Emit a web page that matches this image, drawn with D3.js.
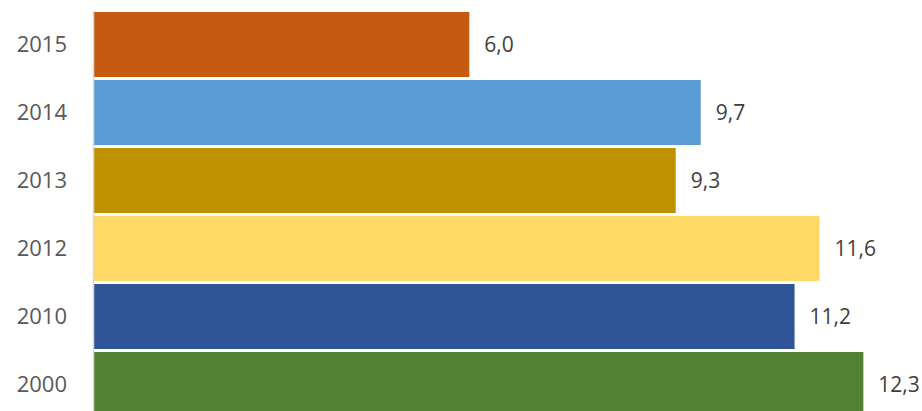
<!DOCTYPE html>
<html>
<head>
<meta charset="utf-8">
<script src="https://cdn.jsdelivr.net/npm/d3@7"></script>
<style>
  body { margin: 0; background: #fff; }
  svg { display: block; font-family: 'Open Sans', sans-serif; }
</style>
</head>
<body>
<script>
const w = 922;
const h = 411;

const years = ['2015', '2014', '2013', '2012', '2010', '2000'];
const values = [6.0, 9.7, 9.3, 11.6, 11.2, 12.3];
const colors = ['#C55A11', '#5B9BD5', '#BF9000', '#FFD966', '#2F5597', '#548235'];

const data = years.map((y, i) => ({ year: y, value: values[i], color: colors[i] }));

const fmt = d3.formatLocale({ decimal: ',', thousands: '.', grouping: [3], currency: ['', ''] }).format('.1f');

const svg = d3
  .select('body')
  .append('svg')
  .attr('width', w)
  .attr('height', h);

const xScale = d3.scaleLinear().domain([0, 10]).range([94, 719.5]);

// step 68px, bar 65px
const yScale = d3
  .scaleBand()
  .domain(years)
  .range([10.5, 418.5])
  .paddingInner(3 / 68)
  .paddingOuter(1.5 / 68);

svg
  .selectAll('rect.bar')
  .data(data)
  .enter()
  .append('rect')
  .attr('class', 'bar')
  .attr('x', xScale(0))
  .attr('y', (d) => yScale(d.year))
  .attr('width', (d) => xScale(d.value) - xScale(0))
  .attr('height', yScale.bandwidth())
  .attr('fill', (d) => d.color);

svg
  .selectAll('text.value')
  .data(data)
  .enter()
  .append('text')
  .attr('class', 'value')
  .attr('x', (d) => xScale(d.value) + 15)
  .attr('y', (d) => yScale(d.year) + yScale.bandwidth() / 2)
  .attr('dy', '0.35em')
  .attr('fill', '#404040')
  .style('font-size', '21px')
  .text((d) => fmt(d.value));

const yAxis = d3.axisLeft(yScale).tickSize(0).tickSizeOuter(0).tickPadding(26);

const gy = svg
  .append('g')
  .attr('id', 'y-axis')
  .attr('transform', `translate(${xScale(0) - 1},0)`)
  .call(yAxis);

gy.select('.domain').attr('stroke', '#d9d9d9').attr('stroke-width', 1.5);
gy.selectAll('text')
  .attr('fill', '#595959')
  .style('font-size', '22px')
  .style('font-family', "'Open Sans', sans-serif");
</script>
</body>
</html>
